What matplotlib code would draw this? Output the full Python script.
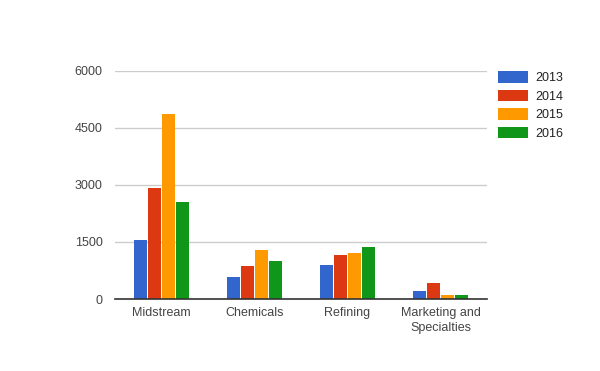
import matplotlib
matplotlib.use("Agg")
import matplotlib.pyplot as plt
import numpy as np

categories = ["Midstream", "Chemicals", "Refining", "Marketing and\nSpecialties"]
years = ["2013", "2014", "2015", "2016"]
v2013 = [1560, 590, 905, 220]
v2014 = [2930, 875, 1165, 430]
v2015 = [4880, 1300, 1220, 115]
v2016 = [2560, 1010, 1375, 115]
series = [v2013, v2014, v2015, v2016]
colors = ["#3366cc", "#dc3912", "#ff9900", "#109618"]
yticks = [0, 1500, 3000, 4500, 6000]

plt.rcParams['font.family'] = ['Liberation Sans', 'DejaVu Sans']

fig = plt.figure(figsize=(6.0, 3.71), dpi=100)
ax = fig.add_axes([115/600, 1 - 299/371, 372/600, 228/371])

x = np.arange(len(categories))
bw = 0.153
for i, (vals, c, lab) in enumerate(zip(series, colors, years)):
    ax.bar(x + (i - 1.5) * bw, vals, width=bw * 0.93, color=c, label=lab, zorder=3)

ax.set_xlim(-0.5, len(categories) - 0.5)
ax.set_ylim(0, 6000)
ax.set_yticks(yticks)
ax.set_yticklabels([str(t) for t in yticks])
ax.set_xticks(x)
ax.set_xticklabels(categories, linespacing=1.3)
ax.tick_params(axis='both', length=0, labelsize=9, colors='#444444')
ax.tick_params(axis='y', pad=9)
ax.tick_params(axis='x', pad=6)
ax.yaxis.grid(True, color='#cccccc', linewidth=1, zorder=0)
for s in ['top', 'right', 'left']:
    ax.spines[s].set_visible(False)
ax.spines['bottom'].set_color('#333333')
ax.spines['bottom'].set_linewidth(1.2)
ax.spines['bottom'].set_zorder(4)

leg = ax.legend(loc='upper left', bbox_to_anchor=((493 - 115) / 372, 1.02),
                frameon=False, fontsize=9, handlelength=2.4, handleheight=1.0,
                handletextpad=0.6, labelspacing=0.45, borderaxespad=0)
for t in leg.get_texts():
    t.set_color('#222222')

fig.savefig("out.png", dpi=100)
